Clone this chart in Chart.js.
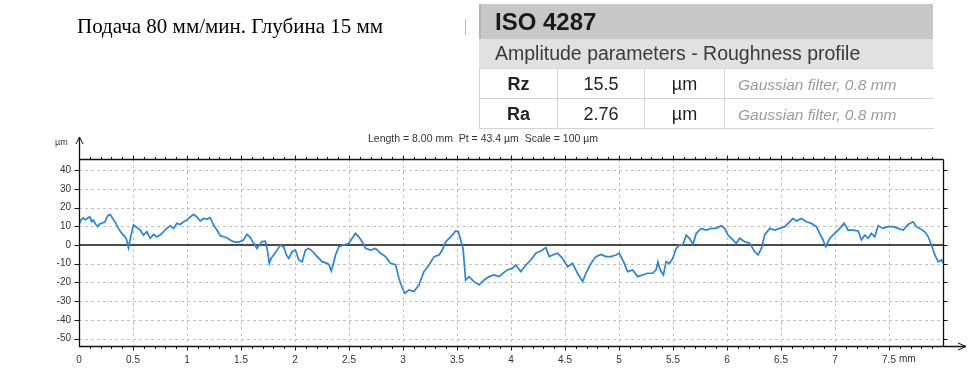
<!DOCTYPE html>
<html><head><meta charset="utf-8">
<script src="https://cdn.jsdelivr.net/npm/chart.js@4"></script>
<style>
html,body{margin:0;padding:0;background:#fff;width:975px;height:369px;overflow:hidden}
#wrap{position:relative;width:975px;height:369px}
canvas{position:absolute;left:0;top:0}
.t{position:absolute;white-space:nowrap}
#tbl{position:absolute;left:479px;top:68px;border-collapse:collapse;font-family:'Liberation Sans',Arial,sans-serif;table-layout:fixed}
#tbl td{border:1px solid #d4d4d4;height:27px;padding:2px 0 0 0;text-align:center;font-size:18px;color:#222;line-height:25px;box-sizing:content-box}
#tbl td.g{font-style:italic;color:#9a9a9a;font-size:15.5px;text-align:left;padding-left:13px;border-right:none}
</style></head><body><div id="wrap">
<canvas id="c" width="975" height="369"></canvas>
<div class="t" style="left:77px;top:14px;font:21px 'Liberation Serif','Times New Roman',serif;color:#000;line-height:24px">Подача 80 мм/мин. Глубина 15 мм</div>
<div class="t" style="left:465px;top:19px;width:1px;height:16px;background:#9fc3e6"></div>
<div class="t" style="left:479px;top:4px;width:454px;height:35px;background:#c8c8c8;border-left:2px solid #b4b4b4;box-sizing:border-box"></div>
<div class="t" style="left:495px;top:4px;font:bold 24px 'Liberation Sans',Arial,sans-serif;line-height:35px;color:#1a1a1a">ISO 4287</div>
<div class="t" style="left:479px;top:39px;width:454px;height:29px;background:#e1e1e1"></div>
<div class="t" style="left:495px;top:39px;font:19.5px 'Liberation Sans',Arial,sans-serif;line-height:29px;color:#3a3a3a">Amplitude parameters - Roughness profile</div>
<table id="tbl">
<colgroup><col style="width:78px"><col style="width:87px"><col style="width:80px"><col style="width:209px"></colgroup>
<tr><td style="font-weight:bold">Rz</td><td>15.5</td><td>µm</td><td class="g">Gaussian filter, 0.8 mm</td></tr>
<tr><td style="font-weight:bold">Ra</td><td>2.76</td><td>µm</td><td class="g">Gaussian filter, 0.8 mm</td></tr>
</table>
<div class="t" style="left:368px;top:132px;font:10.5px 'Liberation Sans',Arial,sans-serif;line-height:12px;color:#333">Length = 8.00 mm&nbsp; Pt = 43.4 µm&nbsp; Scale = 100 µm</div>
<div class="t" style="left:55px;top:136px;font:9px 'Liberation Sans',Arial,sans-serif;line-height:12px;color:#333">µm</div>
</div>
<script>
// profile position (mm)
const xValues = [
0.000,0.020,0.040,0.055,0.071,0.090,0.102,0.118,0.133,0.150,0.173,0.190,0.210,0.241,0.255,0.272,0.290,0.303,0.334,0.365,
0.396,0.427,0.442,0.458,0.470,0.482,0.504,0.535,0.566,0.597,0.628,0.659,0.690,0.720,0.751,0.782,0.813,0.844,0.875,0.906,
0.937,0.968,0.999,1.030,1.061,1.092,1.123,1.153,1.184,1.215,1.246,1.277,1.308,1.340,1.370,1.400,1.430,1.460,1.490,1.520,
1.555,1.580,1.617,1.648,1.670,1.695,1.726,1.745,1.762,1.780,1.803,1.830,1.865,1.895,1.920,1.942,1.973,2.004,2.035,2.066,
2.097,2.128,2.159,2.205,2.251,2.297,2.315,2.335,2.355,2.375,2.406,2.452,2.498,2.529,2.560,2.591,2.622,2.653,2.699,2.746,
2.792,2.838,2.885,2.931,2.962,2.993,3.018,3.055,3.101,3.148,3.194,3.241,3.287,3.333,3.364,3.395,3.441,3.488,3.512,3.534,
3.556,3.580,3.611,3.658,3.704,3.751,3.797,3.843,3.890,3.936,3.967,4.013,4.045,4.091,4.137,4.184,4.230,4.276,4.323,4.354,
4.385,4.431,4.477,4.524,4.570,4.616,4.663,4.694,4.740,4.786,4.833,4.879,4.926,4.972,5.003,5.049,5.080,5.126,5.173,5.219,
5.265,5.312,5.343,5.360,5.374,5.390,5.411,5.436,5.467,5.498,5.529,5.560,5.591,5.622,5.653,5.684,5.715,5.761,5.807,5.854,
5.900,5.947,5.978,6.009,6.055,6.086,6.117,6.163,6.209,6.256,6.287,6.318,6.349,6.395,6.441,6.487,6.534,6.580,6.611,6.642,
6.688,6.735,6.781,6.827,6.858,6.889,6.914,6.951,6.997,7.044,7.084,7.121,7.167,7.214,7.245,7.276,7.306,7.337,7.368,7.399,
7.445,7.492,7.538,7.584,7.631,7.677,7.723,7.754,7.785,7.832,7.863,7.893,7.924,7.955,7.986,8.000
];
// profile height (µm)
const yValues = [
11,13.5,14.6,13.5,13.9,14.8,15,12.5,13.3,11.5,9.8,11.2,11.6,12.4,14.5,16,16.2,15,12.4,8.9,
6.2,4.4,2.7,-1.5,2,5.3,10.7,9.4,8,5.3,7.1,3.6,5.7,4.4,5.3,7.1,8.9,10.3,8.9,11.6,
11,12.4,13.3,15,16.4,15,12.8,14.2,13.9,14.6,10.7,8,5,4.4,3.9,2.7,1.8,1.4,1.8,2.5,
5.7,4.5,0.9,-1.8,0,1.8,2,-3,-9.8,-7,-5.3,-3,0,-1,-5.3,-7.1,-3.6,-2.7,-8,-8.9,
-2.7,-1.8,-3.2,-6.2,-8.9,-9.8,-10.5,-13.9,-10,-5.3,-0.9,0,0.9,3.6,6.2,4.4,1.8,-1.8,-2.7,-1.8,
-4.4,-6.2,-9.8,-10.5,-17.8,-23,-25.8,-24,-24.9,-21.3,-14.2,-10.7,-6.2,-5.3,-2.7,1.8,4.4,7.5,7.2,2.7,
-1.8,-18.7,-16.9,-19.6,-21.3,-18.7,-16.9,-16,-16.9,-14.6,-13.3,-12.4,-10.7,-14.2,-10.7,-8,-4.4,-3.2,-1.4,-6.2,
-5.3,-4.4,-7.1,-11.6,-9.8,-15.1,-19.6,-15,-9.8,-6.2,-5,-6.2,-6.2,-5.3,-4.4,-9.8,-14.2,-13.3,-16.9,-16,
-15.1,-15,-13.3,-9,-12,-14.2,-16,-8.9,-9.8,-7.1,-1.8,0,0,5.3,3.6,0.4,6.2,8.9,8,8.9,
8.9,10.3,8.9,5.3,2.7,0.9,3.6,1.8,1,-3.6,-5.3,-1.8,5.3,8.9,8,8.9,9.8,12.4,14.2,12.8,
14.2,12.4,11.6,9.8,6.2,2.7,-0.9,3.6,6.2,8.9,11.6,8,8,7.5,2.7,5.3,3.6,6.2,4.4,10.3,
8.9,9.8,9.8,8.9,8,11,12.4,9.8,8.9,7.1,4.4,0,-5.3,-8.9,-8,-9.5
];
const yTickValues = [-50,-40,-30,-20,-10,0,10,20,30,40];
const xTickValues = [0,0.5,1,1.5,2,2.5,3,3.5,4,4.5,5,5.5,6,6.5,7,7.5];
const xTickLabels = ['0','0.5','1','1.5','2','2.5','3','3.5','4','4.5','5','5.5','6','6.5','7','7.5'];
const xUnit = 'mm';
const xMinorStep = 0.1;
const xMin = 0, xMax = 8, yMin = -54, yMax = 46;

const framePlugin = {
  id: 'framePlugin',
  beforeDatasetsDraw(chart) {
    const {ctx, chartArea: a, scales: {x, y}} = chart;
    ctx.save();
    ctx.strokeStyle = '#c2c2c2';
    ctx.lineWidth = 1;
    ctx.setLineDash([3, 3]);
    yTickValues.forEach(v => {
      if (v === 0) return;
      const py = Math.round(y.getPixelForValue(v)) + 0.5;
      ctx.beginPath(); ctx.moveTo(a.left, py); ctx.lineTo(a.right, py); ctx.stroke();
    });
    xTickValues.forEach(v => {
      if (v === 0) return;
      const px = Math.round(x.getPixelForValue(v)) + 0.5;
      ctx.beginPath(); ctx.moveTo(px, a.top); ctx.lineTo(px, a.bottom); ctx.stroke();
    });
    ctx.setLineDash([]);
    ctx.strokeStyle = '#111';
    ctx.lineWidth = 1.5;
    const z = y.getPixelForValue(0);
    ctx.beginPath(); ctx.moveTo(a.left, z); ctx.lineTo(a.right, z); ctx.stroke();
    ctx.restore();
  },
  afterDraw(chart) {
    const {ctx, chartArea: a, scales: {x, y}} = chart;
    ctx.save();
    ctx.strokeStyle = '#111';
    ctx.lineWidth = 1.3;
    const L = Math.round(a.left) + 0.5, R = Math.round(a.right) + 0.5;
    const T = Math.round(a.top) + 0.5, B = Math.round(a.bottom) + 0.5;
    ctx.beginPath();
    ctx.moveTo(L, a.top - 22); ctx.lineTo(L, B);
    ctx.lineTo(a.right + 23, B);
    ctx.moveTo(L, T); ctx.lineTo(R, T);
    ctx.moveTo(R, T); ctx.lineTo(R, B);
    ctx.stroke();
    ctx.lineWidth = 1;
    ctx.beginPath();
    ctx.moveTo(L - 3.5, a.top - 15); ctx.lineTo(L, a.top - 22); ctx.lineTo(L + 3.5, a.top - 15);
    ctx.moveTo(a.right + 15, B - 3.5); ctx.lineTo(a.right + 23, B); ctx.lineTo(a.right + 15, B + 3.5);
    ctx.stroke();
    for (let i = 1; xMin + i * xMinorStep < xMax - 1e-9; i++) {
      const v = xMin + i * xMinorStep;
      const px = Math.round(x.getPixelForValue(v)) + 0.5;
      const major = Math.abs(v * 2 - Math.round(v * 2)) < 1e-6;
      const len = major ? 4 : 2.5;
      ctx.beginPath();
      ctx.moveTo(px, T); ctx.lineTo(px, T - len);
      ctx.moveTo(px, B); ctx.lineTo(px, B + len);
      ctx.stroke();
    }
    yTickValues.forEach(v => {
      const py = Math.round(y.getPixelForValue(v)) + 0.5;
      ctx.beginPath();
      ctx.moveTo(L - 5, py); ctx.lineTo(L, py);
      ctx.moveTo(R, py); ctx.lineTo(R + 4, py);
      ctx.stroke();
    });
    const lastV = xTickValues[xTickValues.length - 1];
    ctx.font = "10px 'Liberation Sans', Arial, sans-serif";
    ctx.fillStyle = '#333';
    ctx.textBaseline = 'top';
    ctx.textAlign = 'left';
    const lw = ctx.measureText(xTickLabels[xTickLabels.length - 1]).width;
    ctx.fillText(xUnit, x.getPixelForValue(lastV) + lw / 2 + 3, a.bottom + 8);
    ctx.restore();
  }
};

new Chart(document.getElementById('c'), {
  type: 'line',
  data: {
    datasets: [{
      data: xValues.map((v, i) => ({x: v, y: yValues[i]})),
      borderColor: '#2a84dc',
      borderWidth: 1.7,
      pointRadius: 0,
      tension: 0,
      fill: false
    }]
  },
  options: {
    responsive: false,
    animation: false,
    devicePixelRatio: 1,
    layout: {padding: {left: 0, right: 32, top: 159, bottom: 0}},
    plugins: {legend: {display: false}, tooltip: {enabled: false}, title: {display: false}},
    scales: {
      x: {
        type: 'linear', min: xMin, max: xMax,
        afterBuildTicks: s => { s.ticks = xTickValues.map(v => ({value: v})); },
        afterFit: s => { s.height = 23; },
        ticks: {
          callback: (v, i) => xTickLabels[i],
          font: {size: 10, family: "'Liberation Sans', Arial, sans-serif"},
          color: '#333', padding: 8, maxRotation: 0, autoSkip: false
        },
        grid: {display: false, drawTicks: false},
        border: {display: false}
      },
      y: {
        type: 'linear', min: yMin, max: yMax,
        afterBuildTicks: s => { s.ticks = yTickValues.map(v => ({value: v})); },
        afterFit: s => { s.width = 79; },
        ticks: {
          font: {size: 10, family: "'Liberation Sans', Arial, sans-serif"},
          color: '#333', padding: 8
        },
        grid: {display: false, drawTicks: false},
        border: {display: false}
      }
    }
  },
  plugins: [framePlugin]
});
</script>
</body></html>
